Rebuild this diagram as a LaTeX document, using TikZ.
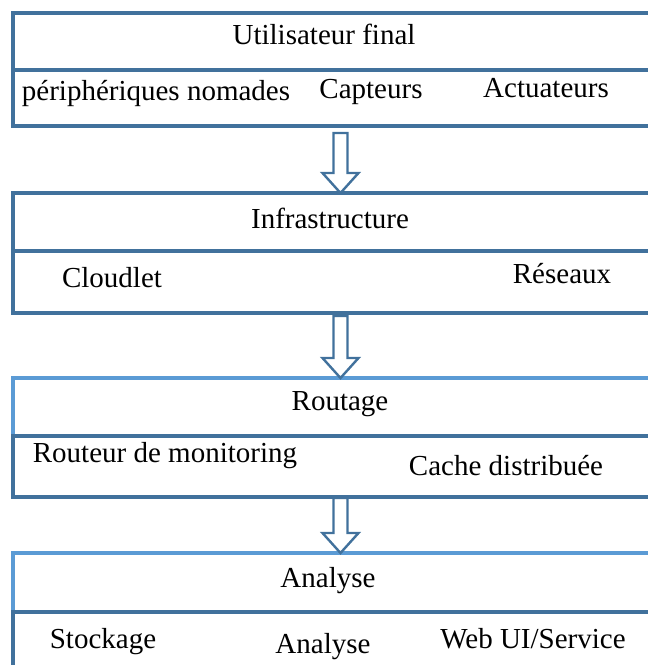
\documentclass[tikz,border=0pt]{standalone}
\usepackage{fontspec}
\setmainfont{Liberation Serif}
\usetikzlibrary{positioning,calc}
\definecolor{darkblue}{RGB}{65,113,156}
\definecolor{lightblue}{RGB}{91,155,213}
\tikzset{
  layer/.style={draw=darkblue, line width=3.2pt, minimum width=655pt, inner sep=0pt, outer sep=0pt, anchor=north west},
  lighthead/.style={layer, draw=lightblue},
  label/.style={anchor=base, inner sep=0pt, font=\fontsize{29}{34}\selectfont},
  blockarrow/.style={draw=darkblue, line width=2.4pt, fill=white, line join=miter,
    to path={let \p1=(\tikztostart), \p2=(\tikztotarget) in
      (\x1-7pt,\y1) -- (\x1-7pt,\y2+20pt) -- (\x1-18pt,\y2+20pt) -- (\x1,\y2)
      -- (\x1+18pt,\y2+20pt) -- (\x1+7pt,\y2+20pt) -- (\x1+7pt,\y1) -- cycle}}
}
\begin{document}
\begin{tikzpicture}[x=1pt,y=-1pt]
  \useasboundingbox (0,0) rectangle (648,665);
  \clip (0,0) rectangle (648,665);

  % couche 1
  \node[layer, minimum height=57pt] (h1) at (13,13) {};
  \node[layer, minimum height=56pt, below=0pt of h1] (p1) {};
  % couche 2
  \node[layer, minimum height=58pt] (h2) at (13,193) {};
  \node[layer, minimum height=62pt, below=0pt of h2] (p2) {};
  % couche 3
  \node[lighthead, minimum height=58pt] (h3) at (13,378) {};
  \node[layer, minimum height=61pt, below=0pt of h3] (p3) {};
  % couche 4
  \node[lighthead, minimum height=59pt] (h4) at (13,553) {};
  \node[layer, minimum height=90pt, below=0pt of h4] (p4) {};

  \draw[blockarrow] ([yshift=-7pt]p1.south) to (h2.north);
  \draw[blockarrow] ([yshift=-3pt]p2.south) to (h3.north);
  \draw[blockarrow] ([yshift=-1pt]p3.south) to (h4.north);

  \node[label] (user) at (324,44) {Utilisateur final};
  \node[label] (mobile) at (156,100) {périphériques nomades};
  \node[label] (sensors) at (371,98) {Capteurs};
  \node[label] (actuators) at (546,97) {Actuateurs};

  \node[label] (infra) at (330,228) {Infrastructure};
  \node[label] (cloudlet) at (112,287) {Cloudlet};
  \node[label] (network) at (562,283) {Réseaux};

  \node[label] (routing) at (340,410) {Routage};
  \node[label] (monitor) at (165,462) {Routeur de monitoring};
  \node[label] (cache) at (506,475) {Cache distribuée};

  \node[label] (analysis) at (328,587) {Analyse};
  \node[label] (storage) at (103,648) {Stockage};
  \node[label] (analytics) at (323,653) {Analyse};
  \node[label] (webui) at (533,648) {Web UI/Service};
\end{tikzpicture}
\end{document}
